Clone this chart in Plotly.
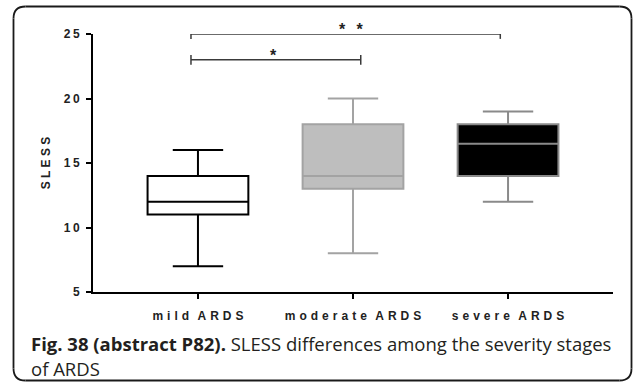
import plotly.graph_objects as go

# ---- data ----
categories = ["mild ARDS", "moderate ARDS", "severe ARDS"]
lower_whisker = [7, 8, 12]
q1_values = [11, 13, 14]
medians = [12, 14, 16.5]
q3_values = [14, 18, 18]
upper_whisker = [16, 20, 19]
y_ticks = [5, 10, 15, 20, 25]

# significance brackets: (from category index, to category index, level, label)
sig_from = [0, 0]
sig_to = [1, 2]
sig_level = [23, 25]
sig_label = ["*", "*\u2002\u2009*"]

fill_colors = ["#ffffff", "#bebebe", "#000000"]
line_colors = ["#000000", "#a3a3a3", "#8a8a8a"]

W, H = 634, 385
L, T = 93, 34
R = W - 613
B = H - 292
pw, ph = W - L - R, H - T - B

def spaced(s, sep=" ", wsep="\u2002"):
    return wsep.join(sep.join(list(w)) for w in s.split(" "))

fig = go.Figure()
for i, c in enumerate(categories):
    fig.add_trace(go.Box(
        x=[i], q1=[q1_values[i]], median=[medians[i]], q3=[q3_values[i]],
        lowerfence=[lower_whisker[i]], upperfence=[upper_whisker[i]],
        width=0.65, whiskerwidth=0.5,
        fillcolor=fill_colors[i], line=dict(color=line_colors[i], width=2),
        boxpoints=False, hoverinfo="skip", showlegend=False,
    ))

# significance brackets
for a, b, lvl, lab in zip(sig_from, sig_to, sig_level, sig_label):
    xa = a - 0.045
    xb = b + (0.05 if b == 1 else -0.05)
    fig.add_shape(type="line", x0=xa, x1=xb, y0=lvl, y1=lvl, xref="x", yref="y",
                  line=dict(color="#3a3a3a", width=1.5))
    for xx in (xa, xb):
        fig.add_shape(type="line", x0=xx, x1=xx, y0=lvl - 0.38, y1=lvl + 0.38,
                      xref="x", yref="y", line=dict(color="#3a3a3a", width=1.5))
    fig.add_annotation(x=(a + b) / 2 - 0.01, y=lvl, text="<b>" + lab + "</b>",
                       showarrow=False, yanchor="bottom", yshift=-6,
                       font=dict(family="Liberation Sans, Arial", size=16, color="#222222"))

# rounded frame (page pixel coordinates converted to paper coordinates)
def px(xp):
    return (xp - L) / pw

def py(yp):
    return (H - B - yp) / ph

x0f, x1f, y0f, y1f, r = 13.5, 631.5, 6.5, 380.5, 12
frame_edges = [
    (x0f + r, y0f, x1f - r, y0f),  # top
    (x1f, y0f + r, x1f, y1f - r),  # right
    (x0f + r, y1f, x1f - r, y1f),  # bottom
    (x0f, y0f + r, x0f, y1f - r),  # left
]
frame_line = dict(color="#1a1a1a", width=1.8)
for ax0, ay0, ax1, ay1 in frame_edges:
    fig.add_shape(type="line", x0=px(ax0), y0=py(ay0), x1=px(ax1), y1=py(ay1),
                  xref="paper", yref="paper", line=frame_line, layer="above")
corners = [
    f"M {px(x1f - r)},{py(y0f)} Q {px(x1f)},{py(y0f)} {px(x1f)},{py(y0f + r)}",
    f"M {px(x1f)},{py(y1f - r)} Q {px(x1f)},{py(y1f)} {px(x1f - r)},{py(y1f)}",
    f"M {px(x0f + r)},{py(y1f)} Q {px(x0f)},{py(y1f)} {px(x0f)},{py(y1f - r)}",
    f"M {px(x0f)},{py(y0f + r)} Q {px(x0f)},{py(y0f)} {px(x0f + r)},{py(y0f)}",
]
for pth in corners:
    fig.add_shape(type="path", path=pth, xref="paper", yref="paper", line=frame_line, layer="above")

# caption
cap_font = dict(family="Open Sans", size=18.5, color="#231f20")
fig.add_annotation(x=px(29), y=py(343), xref="paper", yref="paper", xanchor="left", yanchor="middle",
                   text="<b>Fig. 38 (abstract P82).</b> SLESS differences among the severity stages",
                   showarrow=False, font=cap_font)
fig.add_annotation(x=px(29), y=py(368), xref="paper", yref="paper", xanchor="left", yanchor="middle",
                   text="of ARDS", showarrow=False, font=cap_font)

axis_font = dict(family="Liberation Sans, Arial", size=12, color="#222222")
fig.update_layout(
    width=W, height=H,
    margin=dict(l=L, r=R, t=T, b=B, pad=0),
    paper_bgcolor="white", plot_bgcolor="white",
    boxmode="overlay",
    xaxis=dict(range=[-0.677, 2.677], tickvals=[0, 1, 2],
               ticktext=["<b>" + spaced(c, sep="\u2004", wsep="\u2002\u2009") + "</b>" for c in categories],
               showgrid=False, zeroline=False, showline=True, linecolor="#000000", linewidth=2,
               ticks="outside", ticklen=5, tickwidth=2, tickcolor="#000000",
               tickfont=axis_font, ticklabelstandoff=7, fixedrange=True),
    yaxis=dict(range=[5, 25], tickvals=y_ticks,
               ticktext=["<b>" + spaced(str(v), sep="\u2009") + "</b>" for v in y_ticks],
               showgrid=False, zeroline=False, showline=True, linecolor="#000000", linewidth=2,
               ticks="outside", ticklen=5, tickwidth=2, tickcolor="#000000",
               tickfont=axis_font, ticklabelstandoff=4,
               title=dict(text="<b>" + spaced("SLESS") + "</b>",
                          font=dict(family="Liberation Sans, Arial", size=12, color="#222222"),
                          standoff=11),
               fixedrange=True),
)

fig.write_html("out.html", config={"displayModeBar": False},
               post_script="document.body.style.margin='0px';")
